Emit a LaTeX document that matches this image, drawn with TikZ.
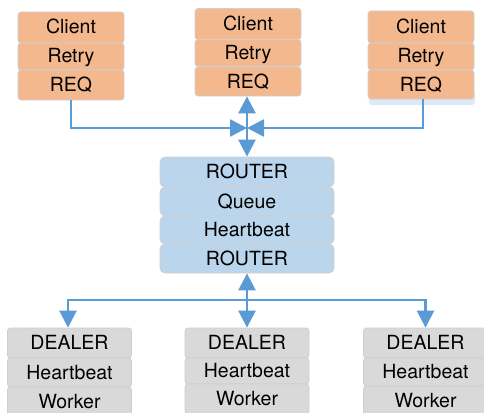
\documentclass[tikz,border=0pt]{standalone}
\usepackage{fontspec}
\setmainfont{TeX Gyre Heros}
\usetikzlibrary{arrows.meta}
\definecolor{orangefill}{HTML}{F4B88E}
\definecolor{bluefill}{HTML}{BBD5EC}
\definecolor{grayfill}{HTML}{D9D9D9}
\definecolor{edgegray}{HTML}{CFCFCF}
\definecolor{linkblue}{HTML}{5B9BD5}
\definecolor{shadowblue}{HTML}{DCE9F6}
\tikzset{
  x=1pt,y=-1pt,
  cell/.style={draw=edgegray,line width=0.8pt,rounded corners=3pt,inner sep=0pt,
    font=\fontsize{19.5}{22}\selectfont,text=black,text height=14pt,text depth=1pt,anchor=center},
  clientcell/.style={cell,fill=orangefill,minimum width=106pt},
  routercell/.style={cell,fill=bluefill,minimum width=174pt,rounded corners=5pt},
  workercell/.style={cell,fill=grayfill,minimum width=124pt},
  link/.style={draw=linkblue,line width=2.6pt},
  head/.style={-{Triangle[length=17pt,width=17pt]}},
  heads/.style={{Triangle[length=17pt,width=17pt]}-{Triangle[length=17pt,width=17pt]}},
}
\newcommand{\cellat}[5]{\node[#1,minimum height=#4 pt] (#2) at (#3) {#5};}
\begin{document}
\begin{tikzpicture}
\useasboundingbox (0,0) rectangle (484,412);
\clip (0,0) rectangle (484,412);
\fill[shadowblue,rounded corners=3pt] (369,92) rectangle (475,105);
% clients
\cellat{clientcell}{cAa}{71,27.5}{31}{Client}
\cellat{clientcell}{cAb}{71,56.5}{27}{Retry}
\cellat{clientcell}{cAc}{71,85}{30}{REQ}
\cellat{clientcell}{cBa}{248,24}{31}{Client}
\cellat{clientcell}{cBb}{248,53}{27}{Retry}
\cellat{clientcell}{cBc}{248,81.5}{29}{REQ}
\cellat{clientcell}{cCa}{421,27}{32}{Client}
\cellat{clientcell}{cCb}{421,56.5}{27}{Retry}
\cellat{clientcell}{cCc}{421,84.5}{29}{REQ}
% router
\cellat{routercell}{rA}{247,172}{30}{ROUTER}
\cellat{routercell}{rB}{247,201.5}{29}{Queue}
\cellat{routercell}{rC}{247,230}{28}{Heartbeat}
\cellat{routercell}{rD}{247,258.5}{29}{ROUTER}
% workers
\cellat{workercell}{dAa}{69.5,343}{30}{DEALER}
\cellat{workercell}{dAb}{69.5,372.5}{29}{Heartbeat}
\cellat{workercell}{dAc}{69.5,401.5}{29}{Worker}
\cellat{workercell}{dBa}{247,343}{30}{DEALER}
\cellat{workercell}{dBb}{247,371}{26}{Heartbeat}
\cellat{workercell}{dBc}{247,399}{30}{Worker}
\cellat{workercell}{dCa}{425.5,343}{30}{DEALER}
\cellat{workercell}{dCb}{425.5,372}{28}{Heartbeat}
\cellat{workercell}{dCc}{425.5,400.5}{29}{Worker}
% upper connectors
\coordinate (hubup) at (247,128);
\draw[link,heads] (cBc.south -| rA.north) -- (rA.north);
\draw[link,head] (cAc.south) |- (hubup);
\draw[link,head] ([xshift=2pt]cCc.south) |- (hubup);
% lower connectors
\coordinate (hubdown) at (247,300);
\draw[link,heads] (rD.south) -- (dBa.north);
\draw[link,head] (hubdown) -| ([xshift=-1.5pt]dAa.north);
\draw[link,head] (hubdown) -| (dCa.north);
\end{tikzpicture}
\end{document}
